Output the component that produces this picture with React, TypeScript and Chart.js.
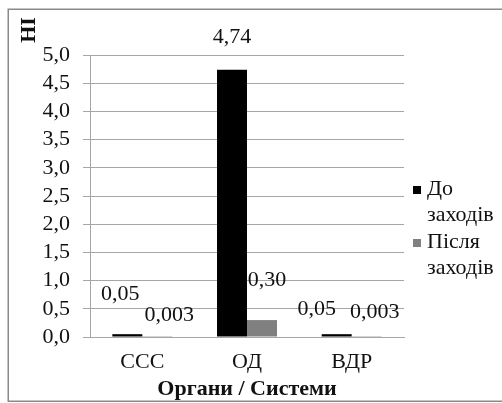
import { useEffect, useRef } from "react";
import { Chart, registerables } from "chart.js";

Chart.register(...registerables);

// Hazard index by organ / system, before and after measures
const categories = ["ССС", "ОД", "ВДР"];
const beforeValues = [0.05, 4.74, 0.05];
const afterValues = [0.003, 0.3, 0.003];
const seriesNames = ["До заходів", "Після заходів"];
const yAxisTitle = "НІ";
const xAxisTitle = "Органи / Системи";

// Hand-placed value label nudges (px from the top-centre of each bar): [series][category]
const labelNudges = [
  [[-7, -40], [0, -32], [-20, -25]],
  [[12, -22], [5, -40], [8, -25]],
];

const FONT = "'Liberation Serif', 'Times New Roman', serif";
const TEXT = "#111";
const GRID = "#a6a6a6";
const SERIES_COLORS = ["#000000", "#808080"];

const fmt = (v: number, decimals: number) => v.toFixed(decimals).replace(".", ",");
const valueText = (v: number) => fmt(v, v < 0.01 ? 3 : 2);

const framePlugin = {
  id: "frame",
  beforeDraw(chart: any) {
    const ctx = chart.ctx;
    ctx.save();
    ctx.fillStyle = "#ffffff";
    ctx.fillRect(0, 0, chart.width, chart.height);
    ctx.strokeStyle = "#8a8a8a";
    ctx.lineWidth = 1.5;
    ctx.strokeRect(8.25, 9.25, chart.width + 20, chart.height - 11);
    ctx.restore();
  },
};

const valueLabelsPlugin = {
  id: "valueLabels",
  afterDatasetsDraw(chart: any) {
    const ctx = chart.ctx;
    ctx.save();
    ctx.font = `22px ${FONT}`;
    ctx.fillStyle = TEXT;
    ctx.textAlign = "center";
    ctx.textBaseline = "middle";
    chart.data.datasets.forEach((ds: any, di: number) => {
      const meta = chart.getDatasetMeta(di);
      meta.data.forEach((bar: any, i: number) => {
        const [dx, dy] = labelNudges[di][i];
        ctx.fillText(valueText(ds.data[i]), bar.x + dx, bar.y + dy);
      });
    });
    ctx.restore();
  },
};

const titlesAndLegendPlugin = {
  id: "titlesAndLegend",
  afterDraw(chart: any) {
    const ctx = chart.ctx;
    const area = chart.chartArea;
    ctx.save();
    // vertical axis title, rotated, above the value axis
    ctx.font = `bold 22px ${FONT}`;
    ctx.fillStyle = TEXT;
    ctx.translate(area.left - 61, area.top - 25);
    ctx.rotate(-Math.PI / 2);
    ctx.textAlign = "center";
    ctx.textBaseline = "middle";
    ctx.fillText(yAxisTitle, 0, 0);
    ctx.restore();

    // legend with wrapped names
    ctx.save();
    ctx.font = `22px ${FONT}`;
    ctx.textAlign = "left";
    ctx.textBaseline = "alphabetic";
    const boxX = area.right + 9;
    const textX = area.right + 23;
    chart.data.datasets.forEach((ds: any, di: number) => {
      const baseline = 195 + di * 53;
      ctx.fillStyle = ds.backgroundColor;
      ctx.fillRect(boxX, baseline - 9, 8, 8);
      ctx.fillStyle = TEXT;
      const words = String(ds.label).split(" ");
      ctx.fillText(words[0], textX, baseline);
      ctx.fillText(words.slice(1).join(" "), textX, baseline + 26);
    });
    ctx.restore();
  },
};

export default function App() {
  const canvasRef = useRef<HTMLCanvasElement | null>(null);

  useEffect(() => {
    const canvas = canvasRef.current;
    if (!canvas) return;
    const chart = new Chart(canvas, {
      type: "bar",
      data: {
        labels: categories,
        datasets: [
          { label: seriesNames[0], data: beforeValues, backgroundColor: SERIES_COLORS[0] },
          { label: seriesNames[1], data: afterValues, backgroundColor: SERIES_COLORS[1] },
        ],
      },
      options: {
        responsive: false,
        maintainAspectRatio: false,
        animation: false,
        devicePixelRatio: 1,
        layout: { padding: { left: 8, right: 98, top: 55, bottom: 0 } },
        datasets: {
          bar: { categoryPercentage: 0.573, barPercentage: 1 },
        },
        plugins: {
          legend: { display: false },
          tooltip: { enabled: false },
        },
        scales: {
          x: {
            afterFit: (s: any) => {
              s.height = 66;
            },
            grid: { display: false, drawTicks: false },
            border: { display: true, color: GRID, width: 1 },
            ticks: {
              padding: 12,
              color: TEXT,
              font: { family: FONT, size: 22 },
            },
            title: {
              display: true,
              text: xAxisTitle,
              color: TEXT,
              font: { family: FONT, size: 22, weight: "bold" },
              padding: { top: 0, bottom: 0 },
            },
          },
          y: {
            min: 0,
            max: 5,
            afterFit: (s: any) => {
              s.width = 82;
            },
            grid: { color: GRID, tickLength: 7, drawTicks: true },
            border: { display: true, color: GRID, width: 1 },
            ticks: {
              stepSize: 0.5,
              autoSkip: false,
              padding: 13,
              color: TEXT,
              font: { family: FONT, size: 22 },
              callback: (v: any) => fmt(Number(v), 1),
            },
          },
        },
      },
      plugins: [framePlugin, valueLabelsPlugin, titlesAndLegendPlugin],
    });
    return () => chart.destroy();
  }, []);

  return (
    <div style={{ position: "fixed", left: 0, top: 0, width: 502, height: 403, background: "#fff" }}>
      <canvas ref={canvasRef} width={502} height={403} style={{ display: "block", width: 502, height: 403 }} />
    </div>
  );
}
